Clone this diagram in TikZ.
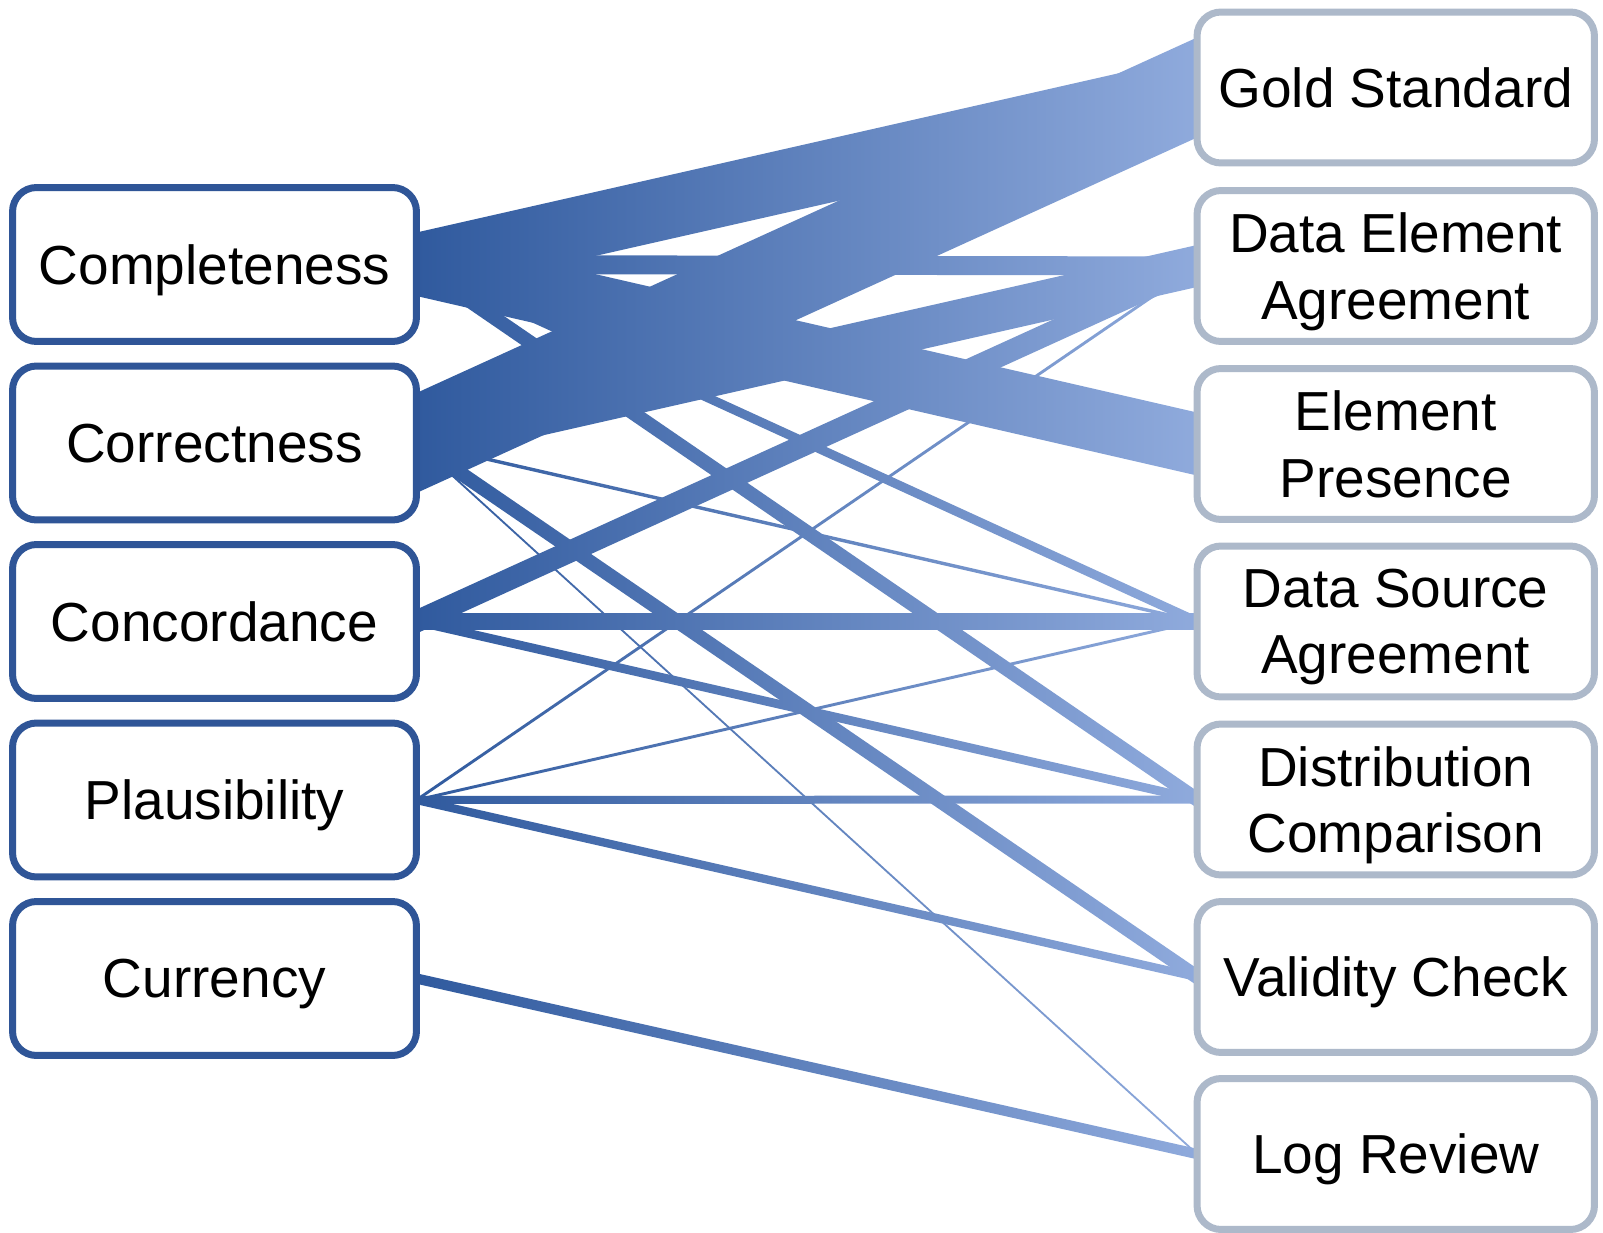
\documentclass[tikz,border=0pt]{standalone}
\usepackage{fontspec}
\setmainfont{Liberation Sans}
\usetikzlibrary{
  backgrounds,
  calc,
}
\definecolor{dimblue}{RGB}{47,85,151}
\definecolor{methgrey}{RGB}{173,185,202}
\definecolor{flowdark}{RGB}{48,90,158}
\definecolor{flowlight}{RGB}{143,170,220}
\tikzset{
  dimbox/.style={draw=dimblue, line width=3.98pt, rounded corners=0.48cm,
    fill=white, outer sep=0pt, align=center, text depth=0pt,
    minimum width=8.08cm, minimum height=3.08cm,
    font=\fontsize{31.3}{37.8}\selectfont},
  methbox/.style={dimbox, draw=methgrey,
    minimum width=7.95cm, minimum height=3.02cm},
  flow/.style={left color=flowdark, right color=flowlight},
}

\begin{document}
\begin{tikzpicture}[x=0.02cm, y=-0.02cm]
  \useasboundingbox (0,0) rectangle (1603,1233);

  % dimensions
  \foreach \n/\y/\t in {
    cmp/264.5/Completeness,
    cor/443/Correctness,
    con/621.5/Concordance,
    pla/800/Plausibility,
    cur/978.5/Currency} {
    \node[dimbox] (\n) at (214.5,\y) {\t};
  }

  % methods
  \foreach \n/\y/\t in {
    gs/87.5/Gold Standard,
    dea/266/{Data Element\\Agreement},
    ep/444/{Element\\Presence},
    dsa/621.5/{Data Source\\Agreement},
    dc/799.5/{Distribution\\Comparison},
    vc/977/Validity Check,
    lr/1154/Log Review} {
    \node[methbox] (\n) at (1395.75,\y) {\t};
  }

  % flows, w = vertical thickness
  \begin{scope}[on background layer]
    \foreach \a/\b/\w in {
      cmp/gs/64, cmp/dea/19, cmp/ep/63, cmp/dsa/10, cmp/dc/17,
      cor/gs/100, cor/dea/42, cor/dsa/3.5, cor/vc/17, cor/lr/2.5,
      con/dea/24, con/dsa/16, con/dc/9,
      pla/dea/3.5, pla/dsa/3, pla/dc/8, pla/vc/8.5,
      cur/lr/10.5} {
      \shade[flow] ($(\a.east)+(0,\w/2)$) -- ($(\b.west)+(0,\w/2)$)
        -- ($(\b.west)-(0,\w/2)$) -- ($(\a.east)-(0,\w/2)$) -- cycle;
    }
  \end{scope}
\end{tikzpicture}
\end{document}
